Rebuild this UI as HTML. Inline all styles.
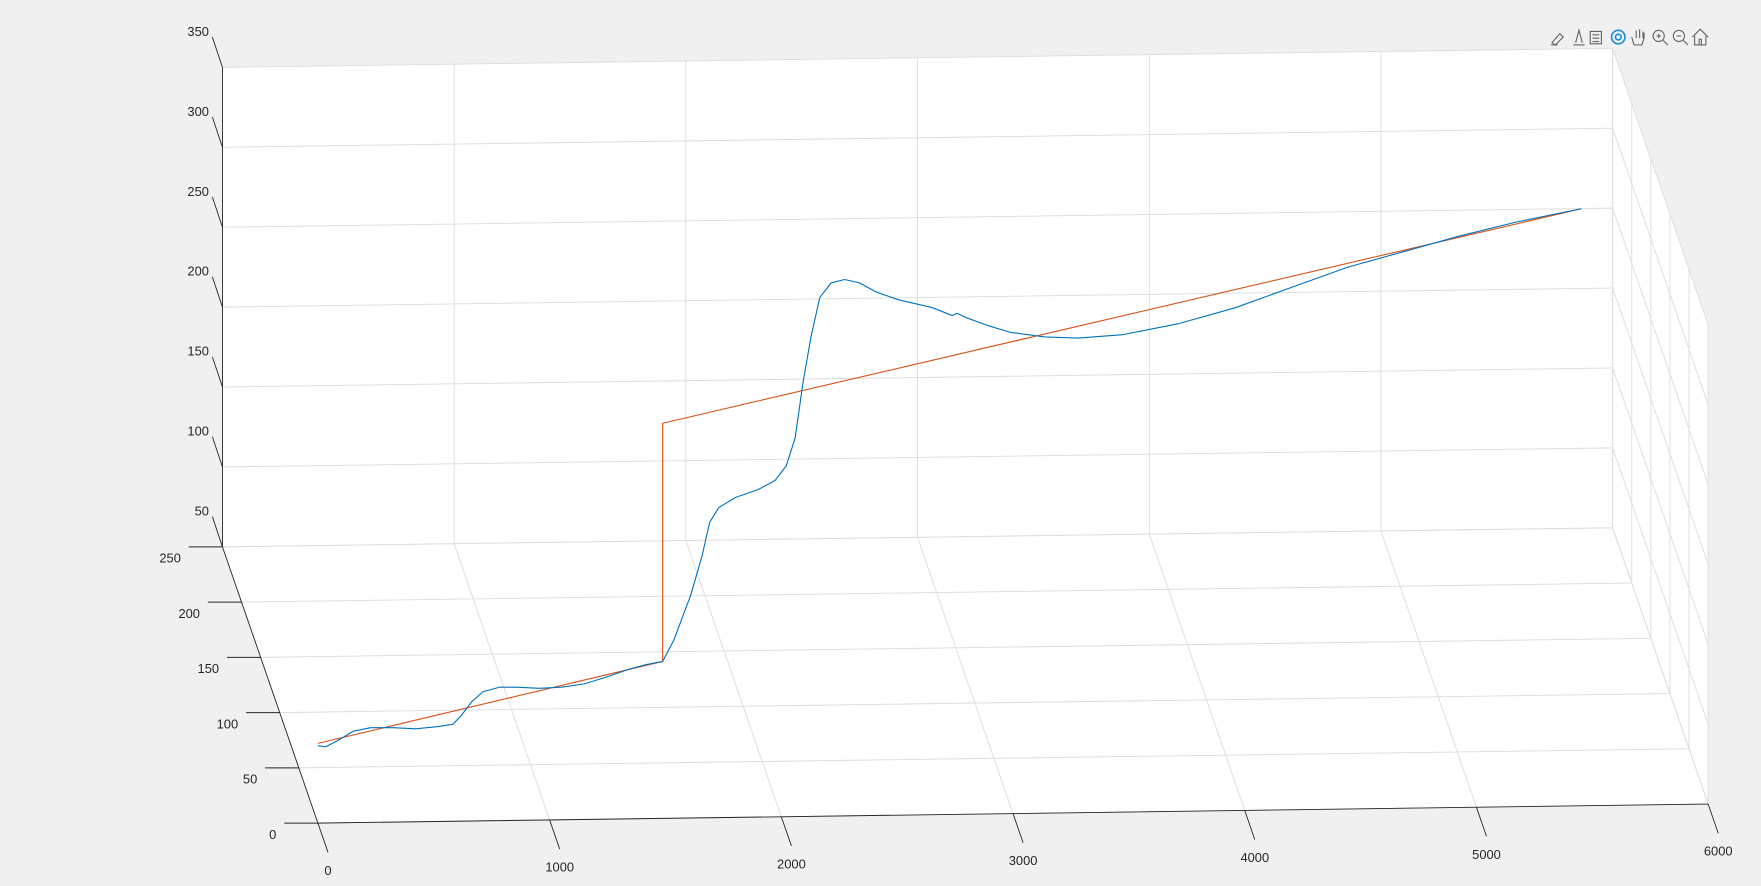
<!DOCTYPE html>
<html><head><meta charset="utf-8"><style>
html,body{margin:0;padding:0;background:#f0f0f0;width:1761px;height:886px;overflow:hidden}
svg{display:block}
text{font-family:"Liberation Sans",sans-serif;font-size:11.5px;fill:#262626}
</style></head><body>
<svg id="chart" width="1761" height="886" viewBox="0 0 1568 789" xmlns="http://www.w3.org/2000/svg">
<g id="planes"></g>
<g id="grid"></g>
<g id="axes"></g>
<g id="series"></g>
<g id="toolbar" transform="translate(1380,24)" stroke="#666" fill="none" stroke-width="1">
  <g><path d="M2 14 L9 6 L12 9 L5 16 Z"/><path d="M1 16 h6"/></g>
  <g transform="translate(18,0)"><path d="M3 16 h10 M5 14 L8 3 L11 14"/></g>
  <g transform="translate(34,0)"><rect x="2" y="4" width="10" height="11"/><path d="M4 7h6M4 10h6M4 13h6"/></g>
  <g transform="translate(52,0)" stroke="#1a8fd8" stroke-width="1.5"><circle cx="9" cy="9" r="6"/><circle cx="9" cy="9" r="2.5"/></g>
  <g transform="translate(70,0)"><path d="M5 16 L3 9 M5 16 h7 l2-6 V5 M7 10 V3 M10 10 V2 M13 10 V4"/></g>
  <g transform="translate(89,0)"><circle cx="8" cy="8" r="5"/><path d="M12 12 L16 16 M6 8h4M8 6v4"/></g>
  <g transform="translate(107,0)"><circle cx="8" cy="8" r="5"/><path d="M12 12 L16 16 M6 8h4"/></g>
  <g transform="translate(125,0)"><path d="M2 9 L9 2 L16 9 M4 8 V16 H14 V8 M8 16 V11 H10 V16"/></g>
</g>
</svg>
<script>
// ---- data ----
const xTicks = [0,1000,2000,3000,4000,5000,6000];
const yTicks = [0,50,100,150,200,250];
const zTicks = [50,100,150,200,250,300,350];
const zTickLabels = ['50','100','150','200','250','300','350'];
const blueX = [0,34,82,155,228,325,422,519,582,616,664,712,785,858,955,1052,1149,1246,1342,1415,1488,1536,1609,1658,1691,1730,1803,1900,1973,2021,2060,2094,2128,2166,2215,2273,2336,2409,2506,2651,2738,2758,2797,2893,2990,3136,3281,3475,3717,3960,4202,4444,4687,4929,5171,5453];
const blueZ = [98.5,97.7,101.2,107.3,109.3,109.1,108.2,109.4,110.7,115.6,124.6,130.8,133.5,133.3,132.4,132.9,134.8,138.9,143.6,146.3,148.2,161.4,189.4,213.9,234.9,244,250.2,254.9,260.4,269.4,286.9,322,350,374.5,383.5,385.6,383.4,377.5,372.4,367.3,362.1,363.5,360.7,355.5,351.1,348,347,348.7,355.2,364.6,376.8,388.9,398.3,407.6,415.7,423.5];
const redX = [0,1488,1488,5453];
const redZ = [99.9,148.2,297.2,423.5];
// ---- projection ----
const ZMIN=50, ZMAX=350;
const O=[283,733], AX=[1238/6000,-17/6000], AY=[-85/250,-246/250], AZ=-427/300;
function P(x,y,z){return [O[0]+AX[0]*x+AY[0]*y, O[1]+AX[1]*x+AY[1]*y+AZ*(z-ZMIN)];}
const NS='http://www.w3.org/2000/svg';
function mk(tag,attrs,parent){const e=document.createElementNS(NS,tag);for(const k in attrs)e.setAttribute(k,attrs[k]);parent.appendChild(e);return e;}
const planes=document.getElementById('planes'),grid=document.getElementById('grid'),axes=document.getElementById('axes'),series=document.getElementById('series');
function poly(pts){return pts.map(p=>p.join(',')).join(' ');}
let pl;
pl=mk('polygon',{points:poly([P(0,250,ZMIN),P(6000,250,ZMIN),P(6000,250,ZMAX),P(0,250,ZMAX)]),fill:'#fff'},planes);


pl=mk('polygon',{points:poly([P(0,0,ZMIN),P(6000,0,ZMIN),P(6000,250,ZMIN),P(0,250,ZMIN)]),fill:'#fff'},planes);


pl=mk('polygon',{points:poly([P(6000,0,ZMIN),P(6000,250,ZMIN),P(6000,250,ZMAX),P(6000,0,ZMAX)]),fill:'#fff'},planes);


function line(a,b,col,parent,name,w){const l=mk('line',{x1:a[0],y1:a[1],x2:b[0],y2:b[1],stroke:col,'stroke-width':w||0.8},parent);


return l;}
const gc='#dcdcdc';
xTicks.forEach(x=>{line(P(x,250,ZMIN),P(x,250,ZMAX),gc,grid,'grid-x-back');line(P(x,0,ZMIN),P(x,250,ZMIN),gc,grid,'grid-x-floor');});
yTicks.forEach(y=>{line(P(0,y,ZMIN),P(6000,y,ZMIN),gc,grid,'grid-y-floor');line(P(6000,y,ZMIN),P(6000,y,ZMAX),gc,grid,'grid-y-side');});
zTicks.forEach(z=>{line(P(0,250,z),P(6000,250,z),gc,grid,'grid-z-back');line(P(6000,0,z),P(6000,250,z),gc,grid,'grid-z-side');});
const ac='#262626';
line(P(0,0,ZMIN),P(6000,0,ZMIN),ac,axes,'x-axis-line');
line(P(0,0,ZMIN),P(0,250,ZMIN),ac,axes,'y-axis-line');
line(P(0,250,ZMIN),P(0,250,ZMAX),ac,axes,'z-axis-line');
function txt(s,x,y,anchor,name){const t=mk('text',{x:x,y:y,'text-anchor':anchor},axes);t.textContent=s;

}
xTicks.forEach(x=>{const a=P(x,0,ZMIN);line(a,[a[0]+9,a[1]+26],ac,axes,'x-tick');txt(String(x),a[0]+9,a[1]+46,'middle','x-tick-label');});
yTicks.forEach(y=>{const a=P(0,y,ZMIN);line(a,[a[0]-30,a[1]],ac,axes,'y-tick');txt(String(y),a[0]-37,a[1]+14,'end','y-tick-label');});
zTicks.forEach((z,i)=>{const a=P(0,250,z);line(a,[a[0]-9,a[1]-27],ac,axes,'z-tick');txt(zTickLabels[i],a[0]-12,a[1]-28,'end','z-tick-label');});
function path(xs,zs,col,name){const d=xs.map((x,i)=>{const p=P(x,0,zs[i]);return (i?'L':'M')+p[0].toFixed(1)+' '+p[1].toFixed(1);}).join(' ');
const e=mk('path',{d:d,fill:'none',stroke:col,'stroke-width':1,'stroke-linejoin':'round'},series);

}
path(redX,redZ,'#d95319','red-reference-line');
path(blueX,blueZ,'#0072bd','blue-trajectory-line');
</script>
</body></html>
